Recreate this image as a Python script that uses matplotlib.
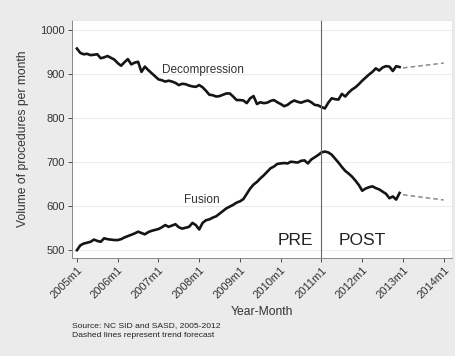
import matplotlib
matplotlib.use("Agg")
import matplotlib.pyplot as plt
import numpy as np

plt.rcParams["font.family"] = ["Liberation Sans", "DejaVu Sans"]

# monthly series 2005m1 .. 2012m12
years = [2005, 2006, 2007, 2008, 2009, 2010, 2011, 2012]
decompression = [
    958, 948, 945, 946, 943, 944, 945, 936, 938, 941, 937, 933,  # 2005
    925, 919, 927, 934, 922, 926, 928, 905, 917, 909, 902, 895,  # 2006
    888, 886, 883, 885, 883, 880, 875, 878, 877, 874, 872, 871,  # 2007
    875, 870, 862, 853, 852, 849, 850, 853, 856, 856, 849, 841,  # 2008
    841, 840, 834, 845, 850, 832, 836, 834, 835, 839, 841, 836,  # 2009
    832, 827, 830, 836, 840, 837, 835, 838, 840, 836, 830, 829,  # 2010
    825, 822, 835, 845, 843, 842, 855, 849, 858, 865, 870, 877,  # 2011
    885, 892, 899, 905, 913, 908, 915, 918, 917, 907, 918, 916,  # 2012
]
fusion = [
    500, 511, 515, 517, 519, 524, 521, 519, 527, 525, 524, 523,  # 2005
    523, 525, 529, 532, 535, 538, 542, 539, 536, 541, 544, 546,  # 2006
    548, 552, 557, 553, 556, 559, 552, 549, 551, 553, 562, 557,  # 2007
    547, 562, 568, 570, 574, 577, 583, 589, 595, 599, 603, 608,  # 2008
    611, 616, 628, 640, 649, 655, 663, 670, 678, 686, 690, 696,  # 2009
    697, 698, 697, 701, 700, 699, 703, 704, 697, 706, 711, 716,  # 2010
    722, 724, 722, 717, 708, 699, 689, 680, 674, 667, 658, 648,  # 2011
    635, 640, 643, 645, 641, 638, 633, 628, 618, 622, 615, 630,  # 2012
]
# trend forecast 2013m1 -> 2014m1
forecast_t = [2013.0, 2014.0]
decomp_forecast = [914, 925]
fusion_forecast = [626, 614]

xtick_years = list(range(2005, 2015))
xtick_labels = [f"{y}m1" for y in xtick_years]
yticks = [500, 600, 700, 800, 900, 1000]

t = np.array([y + m / 12 for y in years for m in range(12)])

fig = plt.figure(figsize=(4.56, 3.56), dpi=100, facecolor="#ebebeb")
ax = fig.add_axes([0.158, 0.275, 0.833, 0.669], facecolor="white")

for yv in yticks:
    ax.axhline(yv, color="#ececec", lw=0.8, zorder=0)

ax.plot(t, decompression, color="#151515", lw=1.9)
ax.plot(t, fusion, color="#151515", lw=1.9)
ax.plot(forecast_t, decomp_forecast, color="#8a8a8a", lw=1.1, ls=(0, (3, 2)))
ax.plot(forecast_t, fusion_forecast, color="#8a8a8a", lw=1.1, ls=(0, (3, 2)))
ax.axvline(2011.0, color="#666666", lw=0.8)

ax.text(2008.09, 909, "Decompression", fontsize=8.5, color="#333333", ha="center", va="center")
ax.text(2008.06, 614, "Fusion", fontsize=8.5, color="#333333", ha="center", va="center")
ax.text(2010.37, 523, "PRE", fontsize=12.5, color="#222222", ha="center", va="center")
ax.text(2011.99, 523, "POST", fontsize=12.5, color="#222222", ha="center", va="center")

ax.set_xlim(2004.88, 2014.2)
ax.set_ylim(482, 1023)
ax.set_xticks(xtick_years)
ax.set_xticklabels(xtick_labels, rotation=45, ha="right", rotation_mode="anchor")
ax.set_yticks(yticks)
ax.tick_params(labelsize=8, colors="#333333", length=3, width=0.6, pad=2)
for s in ["top", "right"]:
    ax.spines[s].set_color("#e4e4e4")
    ax.spines[s].set_linewidth(0.6)
for s in ["left", "bottom"]:
    ax.spines[s].set_color("#888888")
    ax.spines[s].set_linewidth(0.7)

ax.set_ylabel("Volume of procedures per month", fontsize=8.7, color="#333333", labelpad=8)
ax.set_xlabel("Year-Month", fontsize=8.7, color="#333333", labelpad=4)

fig.text(0.158, 0.081, "Source: NC SID and SASD, 2005-2012", fontsize=6.1, color="#222222")
fig.text(0.158, 0.053, "Dashed lines represent trend forecast", fontsize=6.1, color="#222222")

fig.savefig("out.png", dpi=100, facecolor=fig.get_facecolor())
